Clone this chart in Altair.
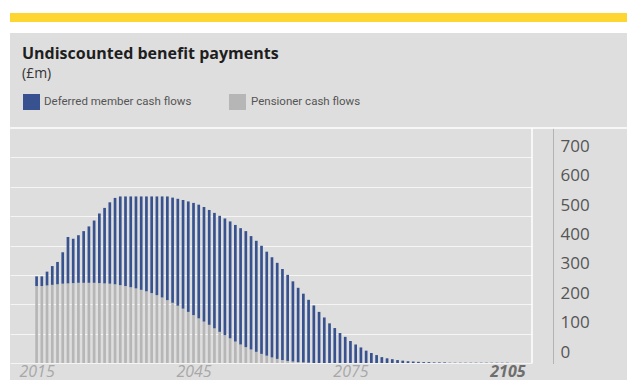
import altair as alt
import pandas as pd

years = list(range(2015, 2106))

pensioner = [262, 262, 264, 266, 268, 270, 271, 272, 273, 273,
             273, 273, 272, 271, 270, 268, 265, 262, 258, 254,
             249, 244, 238, 231, 223, 214, 205, 195, 185, 174,
             163, 152, 141, 130, 118, 106, 95, 84, 73, 63,
             54, 46, 38, 31, 25, 19, 14, 10, 7, 5,
             3, 2, 1] + [0] * 38

deferred = [33, 33, 47, 64, 76, 107, 158, 151, 162, 176,
            192, 212, 237, 257, 277, 294, 302, 305, 309, 313,
            318, 323, 329, 336, 344, 353, 358, 364, 370, 376,
            382, 387, 390, 391, 393, 395, 397, 398, 397, 396,
            395, 386, 378, 368, 354, 341, 327, 310, 293, 273,
            253, 234, 214, 196, 174, 155, 135, 119, 102, 89,
            75, 63, 53, 42, 34, 27, 20, 16, 13, 10,
            8, 6, 5, 4, 3, 3, 2, 2, 2, 1,
            1, 1, 1, 1, 1, 1, 1, 1, 1, 1, 1]

series_names = ["Pensioner cash flows", "Deferred member cash flows"]
series_colors = ["#b6b6b6", "#37528f"]
y_ticks = [0, 100, 200, 300, 400, 500, 600, 700]
x_ticks = [2015, 2045, 2075, 2105]

rows = []
for yr, p, d in zip(years, pensioner, deferred):
    rows.append({"year": yr, "series": series_names[0], "value": p, "ord": 0})
    rows.append({"year": yr, "series": series_names[1], "value": d, "ord": 1})
df = pd.DataFrame(rows)

W, H = 522, 235
RIGHT = 95
BG = "#dedede"
one = alt.Data(values=[{}])

def rect(x, x2, y, y2, color):
    return alt.Chart(one).mark_rect(color=color).encode(
        x=alt.value(x), x2=alt.value(x2), y=alt.value(y), y2=alt.value(y2))

def txt(s, x, y, size, weight="normal", color="#222", font="Open Sans", baseline="alphabetic"):
    return alt.Chart(one).mark_text(
        text=s, align="left", baseline=baseline, fontSize=size,
        fontWeight=weight, color=color, font=font
    ).encode(x=alt.value(x), y=alt.value(y))

FULL = W + RIGHT + 1
white_top = rect(-3, FULL, -122, -95, "white")
white_left = rect(-3, 0, -122, H + 20, "white")
yellow = rect(0, FULL, -115, -106, "#fdd631")
sep = alt.Chart(one).mark_rule(color="white", strokeWidth=1.5).encode(
    x=alt.value(0), x2=alt.value(FULL), y=alt.value(0))
vline = alt.Chart(one).mark_rule(color="white", strokeWidth=1.5).encode(
    x=alt.value(W), y=alt.value(0), y2=alt.value(H))

title = txt("Undiscounted benefit payments", 12, -69, 16, weight="bold", color="#1e1e1e")
unit = txt("(£m)", 12, -50, 14, color="#333")
leg1_box = rect(13, 30, -34, -18, series_colors[1])
leg1_txt = txt(series_names[1], 34, -26, 11.5, color="#555", font="Roboto", baseline="middle")
leg2_box = rect(219, 236, -34, -18, series_colors[0])
leg2_txt = txt(series_names[0], 241, -26, 11.5, color="#555", font="Roboto", baseline="middle")

bars = alt.Chart(df).mark_bar(size=2.7).encode(
    x=alt.X("year:Q",
            scale=alt.Scale(domain=[2010.875, 2108.75], nice=False, zero=False),
            axis=alt.Axis(values=x_ticks, format="d", title=None, grid=False,
                          domain=False, ticks=False, labelPadding=0,
                          labelFontSize=16, labelFontStyle="italic",
                          labelFont="Open Sans", labelFlush=False, labelOverlap=False,
                          labelColor=alt.condition("datum.value == 2105", alt.value("#6e6e6e"), alt.value("#a8a8a8")),
                          labelFontWeight=alt.condition("datum.value == 2105", alt.value("bold"), alt.value("normal")))),
    y=alt.Y("value:Q", stack="zero",
            scale=alt.Scale(domain=[0, 800], nice=False),
            axis=alt.Axis(orient="right", values=y_ticks, title=None, offset=21,
                          domainColor="#8a8a8a", domainDash=[1, 1], domainWidth=1,
                          ticks=False, labelAlign="left", labelPadding=7,
                          labelFontSize=17, labelFont="Open Sans", labelColor="#555",
                          labelBaseline="middle", labelOffset=-11,
                          grid=True, gridColor="white", gridOpacity=0.7, gridWidth=1)),
    color=alt.Color("series:N", scale=alt.Scale(domain=series_names, range=series_colors), legend=None),
    order=alt.Order("ord:Q", sort="ascending"),
)

chart = alt.layer(
    white_top, white_left, yellow, sep, title, unit,
    leg1_box, leg1_txt, leg2_box, leg2_txt, bars, vline
).properties(
    width=W, height=H,
    padding={"left": 2, "top": 120, "right": RIGHT, "bottom": 17},
    autosize=alt.AutoSizeParams(type="none"),
    background=BG,
).configure_view(strokeWidth=0)

chart.save("out.html", embed_options={"renderer": "svg", "actions": False})
